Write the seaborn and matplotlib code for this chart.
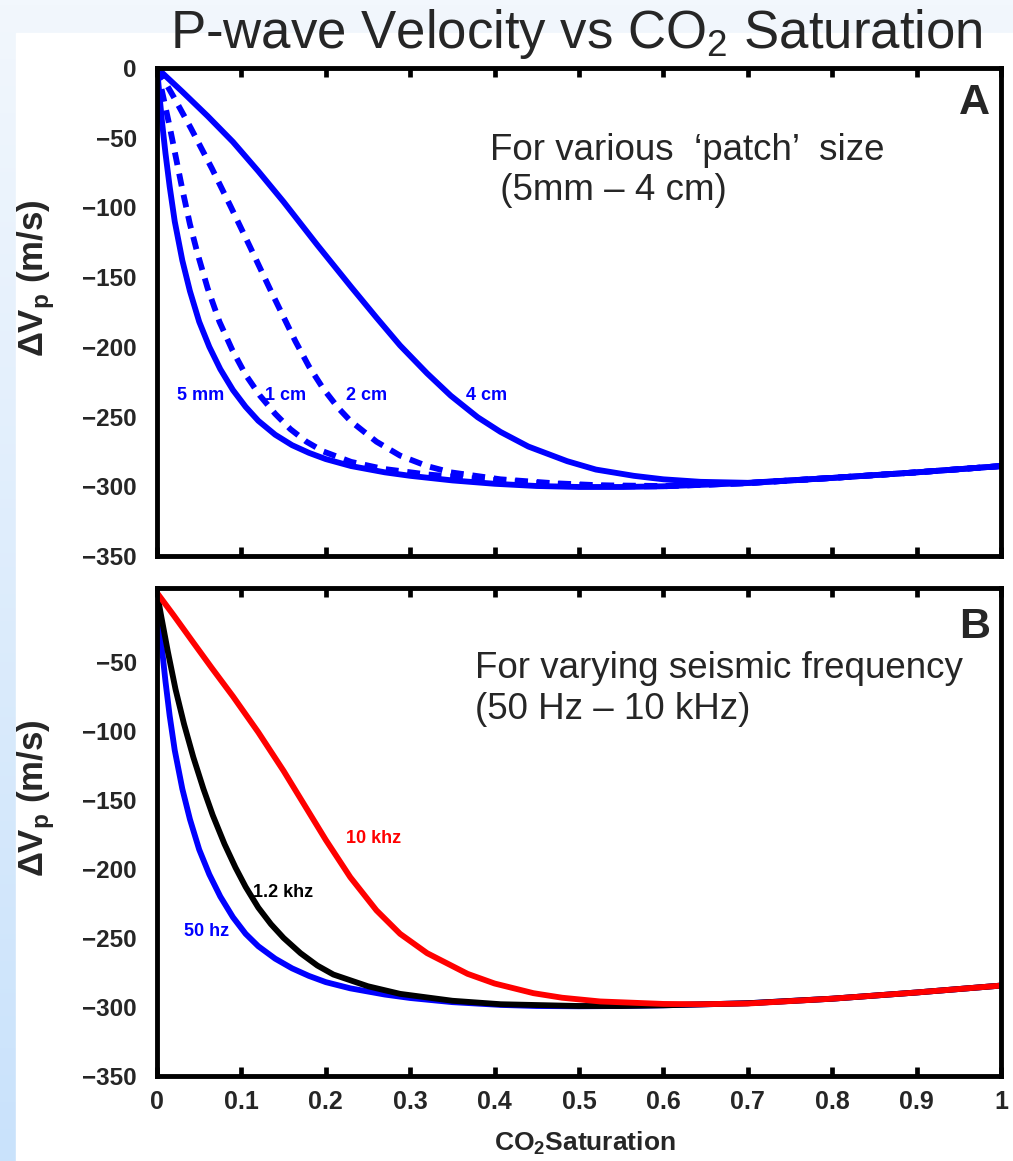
import numpy as np
import seaborn as sns
import matplotlib.pyplot as plt
from matplotlib.colors import LinearSegmentedColormap
from matplotlib.patches import Rectangle

# Panel A: patch size curves (CO2 saturation, delta Vp in m/s)
sat_5mm = [0, 0.003, 0.006, 0.01, 0.015, 0.021, 0.03, 0.039, 0.05, 0.062, 0.075, 0.09, 0.105, 0.12,
           0.14, 0.16, 0.18, 0.2, 0.23, 0.27, 0.3, 0.35, 0.4, 0.45, 0.5, 0.55, 0.6, 0.7, 0.8, 0.9, 1.0]
dvp_5mm = [0, -20, -39, -61, -85, -110, -138, -160, -182, -200, -216, -231, -243, -253,
           -263, -270.5, -276, -280.5, -285.5, -290, -292.5, -295.8, -298.2, -299.8, -300.5, -300.5,
           -300, -297.7, -294, -290, -285.5]

sat_1cm = [0, 0.005, 0.01, 0.015, 0.022, 0.03, 0.039, 0.048, 0.06, 0.074, 0.089, 0.105, 0.122, 0.14,
           0.158, 0.177, 0.197, 0.23, 0.268, 0.32, 0.387, 0.45, 0.5, 0.55, 0.6, 0.7, 0.8, 0.9, 1.0]
dvp_1cm = [0, -14, -28, -42, -63, -87, -112, -133, -158, -182, -202, -220, -235, -248,
           -259, -268, -275, -282.5, -287.5, -291.5, -295, -297.5, -299, -300, -300, -297.7,
           -294, -290, -285.5]

sat_2cm = [0, 0.02, 0.04, 0.065, 0.087, 0.11, 0.135, 0.164, 0.18, 0.197, 0.215, 0.229, 0.26, 0.288,
           0.32, 0.348, 0.407, 0.47, 0.525, 0.6, 0.7, 0.8, 0.9, 1.0]
dvp_2cm = [0, -21, -43, -72, -99, -128, -160, -196, -214, -230, -244, -253, -268, -278,
           -285.5, -290, -295, -297.8, -299.3, -299.8, -297.7, -294, -290, -285.5]

sat_4cm = [0, 0.03, 0.06, 0.09, 0.12, 0.15, 0.19, 0.23, 0.26, 0.288, 0.32, 0.348, 0.38, 0.407,
           0.44, 0.486, 0.52, 0.565, 0.6, 0.644, 0.7, 0.8, 0.9, 1.0]
dvp_4cm = [0, -17, -34.5, -53, -74, -96, -127, -157, -179, -199, -219, -235, -250.5, -261,
           -271.5, -282, -288, -292.5, -295, -296.8, -297.5, -294, -290, -285.5]

# Panel B: seismic frequency curves
sat_50hz = [0, 0.003, 0.006, 0.01, 0.015, 0.021, 0.03, 0.039, 0.05, 0.062, 0.075, 0.09, 0.105, 0.12,
            0.14, 0.16, 0.18, 0.2, 0.229, 0.27, 0.3, 0.35, 0.407, 0.45, 0.5, 0.55, 0.6, 0.7, 0.8,
            0.9, 1.0]
dvp_50hz = [0, -21, -41, -64, -89, -114, -142, -164, -186, -204, -220, -235, -247, -256,
            -265, -272, -277.5, -282, -286.5, -291, -293.5, -296.5, -298.5, -299.3, -299.5, -299.3,
            -298.8, -297.3, -294, -289.5, -284.5]

sat_1k2hz = [0, 0.005, 0.013, 0.022, 0.032, 0.043, 0.055, 0.066, 0.08, 0.093, 0.105, 0.12, 0.135,
             0.15, 0.17, 0.19, 0.209, 0.25, 0.288, 0.35, 0.407, 0.5, 0.55, 0.6, 0.7, 0.8, 0.9, 1.0]
dvp_1k2hz = [0, -17, -43, -70, -95, -119, -142, -161, -182, -199, -213, -228, -240,
             -250, -261, -270, -276.5, -285, -290.5, -295.5, -298, -299.3, -299.3, -298.8, -297.3,
             -294, -289.5, -284.5]

sat_10khz = [0, 0.02, 0.043, 0.065, 0.09, 0.12, 0.15, 0.175, 0.2, 0.229, 0.26, 0.288, 0.32, 0.368,
             0.4, 0.446, 0.48, 0.525, 0.6, 0.644, 0.7, 0.8, 0.9, 1.0]
dvp_10khz = [0, -16.5, -36, -54.5, -75, -101, -129, -154, -179, -206, -230, -247, -261, -276,
             -283, -290, -293.3, -296, -297.8, -298, -297.5, -294, -289.5, -284.5]

x_ticks = [0, 0.1, 0.2, 0.3, 0.4, 0.5, 0.6, 0.7, 0.8, 0.9, 1.0]
x_labels = ["0", "0.1", "0.2", "0.3", "0.4", "0.5", "0.6", "0.7", "0.8", "0.9", "1"]
y_ticks_a = [0, -50, -100, -150, -200, -250, -300, -350]
y_ticks_b = [-50, -100, -150, -200, -250, -300, -350]

sns.set_style("white")
plt.rcParams['font.family'] = ['Liberation Sans', 'DejaVu Sans']
plt.rcParams['mathtext.fontset'] = 'custom'
plt.rcParams['mathtext.rm'] = 'Liberation Sans'
plt.rcParams['mathtext.bf'] = 'Liberation Sans:bold'

W, H = 1013, 1161
fig = plt.figure(figsize=(W / 100, H / 100), dpi=100)

# slide-like background: light blue gradient with a white card
bg = fig.add_axes([0, 0, 1, 1], zorder=-10)
cmap = LinearSegmentedColormap.from_list("slide", ["#f2f7fd", "#c9e2fb"])
bg.imshow(np.linspace(0, 1, 256).reshape(-1, 1), aspect='auto', cmap=cmap,
          extent=[0, 1, 0, 1], origin='upper')
bg.add_patch(Rectangle((16 / W, 0), 1, 1 - 33 / H, color='white'))
bg.set_xlim(0, 1)
bg.set_ylim(0, 1)
bg.axis('off')

left, right = 157 / W, 1001 / W
ax_a = fig.add_axes([left, 1 - 556 / H, right - left, 488 / H])
ax_b = fig.add_axes([left, 1 - 1076 / H, right - left, 488 / H])

lw = 4.2
dash = (0, (2.2, 1.5))

sns.lineplot(x=sat_5mm, y=dvp_5mm, ax=ax_a, color='#0000ff', lw=lw)
sns.lineplot(x=sat_1cm, y=dvp_1cm, ax=ax_a, color='#0000ff', lw=lw, linestyle=dash)
sns.lineplot(x=sat_2cm, y=dvp_2cm, ax=ax_a, color='#0000ff', lw=lw, linestyle=dash)
sns.lineplot(x=sat_4cm, y=dvp_4cm, ax=ax_a, color='#0000ff', lw=lw)

sns.lineplot(x=sat_50hz, y=dvp_50hz, ax=ax_b, color='#0000ff', lw=lw)
sns.lineplot(x=sat_1k2hz, y=dvp_1k2hz, ax=ax_b, color='black', lw=lw)
sns.lineplot(x=sat_10khz, y=dvp_10khz, ax=ax_b, color='#ff0000', lw=lw)

for ax, yt, ytop in [(ax_a, y_ticks_a, 0), (ax_b, y_ticks_b, 3.5)]:
    ax.set_facecolor('white')
    ax.set_xlim(0, 1)
    ax.set_ylim(-350, ytop)
    ax.set_xticks(x_ticks)
    ax.set_yticks(yt)
    ax.set_yticklabels([f"\u2212{abs(v)}" if v else "0" for v in yt],
                       fontsize=17.5, fontweight='bold')
    for sp in ax.spines.values():
        sp.set_visible(True)
        sp.set_color('black')
        sp.set_linewidth(3.5)
    ax.tick_params(axis='x', direction='in', top=True, bottom=True,
                   length=6.5, width=3.4, pad=10, color='black')
    ax.tick_params(axis='y', length=0, pad=14.5)
    ax.set_ylabel("\u0394V$_\\mathbf{p}$ (m/s)", fontsize=25, fontweight='bold')
    ax.yaxis.set_label_coords(-0.118, 0.568)
    ax.set_xlabel("")

ax_a.set_xticklabels([])
ax_b.set_xticklabels(x_labels, fontsize=18, fontweight='bold')
ax_b.set_xlabel("CO$_\\mathbf{2}$Saturation", fontsize=19, fontweight='bold', labelpad=12)
ax_b.xaxis.set_label_coords(0.507, -0.11)

# panel annotations
ax_a.text(0.987, -11, "A", fontsize=31, fontweight='bold', ha='right', va='top')
ax_b.text(0.987, -10, "B", fontsize=31, fontweight='bold', ha='right', va='top')

ax_a.text(0.395, -66, "For various  \u2018patch\u2019  size", fontsize=26.5, va='baseline')
ax_a.text(0.395, -95, " (5mm \u2013 4 cm)", fontsize=26.5, va='baseline')
ax_b.text(0.377, -62, "For varying seismic frequency", fontsize=26.5, va='baseline')
ax_b.text(0.377, -91.5, "(50 Hz \u2013 10 kHz)", fontsize=26.5, va='baseline')

for s, v, t in [(0.052, -235, "5 mm"), (0.152, -235, "1 cm"), (0.248, -235, "2 cm"), (0.39, -235, "4 cm")]:
    ax_a.text(s, v, t, color='#0000ff', fontsize=13, fontweight='bold', ha='center', va='center')
for s, v, t, c in [(0.256, -178, "10 khz", '#ff0000'), (0.149, -217, "1.2 khz", 'black'),
                   (0.059, -245, "50 hz", '#0000ff')]:
    ax_b.text(s, v, t, color=c, fontsize=13, fontweight='bold', ha='center', va='center')

fig.text(576.5 / W, 1 - 48 / H, "P-wave Velocity vs CO$_2$ Saturation", fontsize=38,
         ha='center', va='baseline')

fig.savefig("out.png", dpi=100, facecolor=fig.get_facecolor())
